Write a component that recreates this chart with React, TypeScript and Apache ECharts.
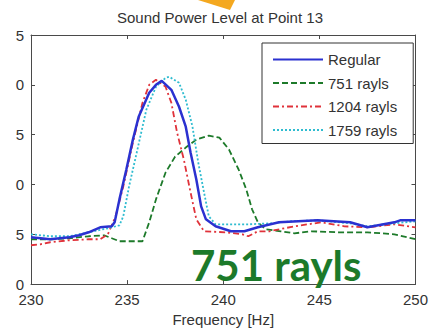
import React, { useEffect, useRef } from "react";
import * as echarts from "echarts";

// Frequency [Hz] / sound power level pairs for each treatment
const regular: [number, number][] = [
  [230, 54.7], [230.5, 54.6], [231, 54.5], [231.5, 54.6], [232, 54.7], [232.5, 54.9],
  [233, 55.2], [233.6, 55.7], [234.2, 55.8], [234.35, 56.2], [234.6, 58.5], [234.96, 61.5],
  [235.3, 64.5], [235.6, 66.8], [236.15, 69.2], [236.5, 70], [236.8, 70.4], [237.3, 69.5],
  [237.7, 67.8], [238.05, 65.8], [238.3, 63.2], [238.6, 60.5], [238.85, 57.8], [239.1, 56.5],
  [239.6, 55.8], [240.4, 55.3], [241.1, 55.3], [241.8, 55.7], [242.9, 56.2], [244.9, 56.4],
  [246.6, 56.2], [247.5, 55.7], [248.9, 56.2], [249.2, 56.4], [250, 56.4],
];

const rayls751: [number, number][] = [
  [230, 54.5], [231, 54.5], [232, 54.6], [233, 54.8], [233.8, 54.9], [234.2, 54.6],
  [234.6, 54.3], [235.8, 54.3], [236.15, 56.2], [236.5, 58.5], [237, 61.2], [237.5, 62.8],
  [238.05, 63.7], [238.6, 64.5], [239.25, 64.9], [239.8, 64.7], [240.3, 63.5], [240.8, 61.5],
  [241.2, 59.5], [241.5, 57.5], [241.8, 56.2], [242.2, 55.5], [243, 55.3], [243.7, 55.1],
  [244.6, 55.3], [246, 55.2], [247.5, 55.2], [248.9, 55], [250, 54.5],
];

const rayls1204: [number, number][] = [
  [230, 53.9], [230.5, 54], [231, 54.2], [232, 54.4], [233, 54.5], [233.6, 54.5],
  [234, 55], [234.4, 56.8], [234.8, 59.8], [235.3, 64.2], [235.8, 68.2], [236.15, 70],
  [236.5, 70.5], [237, 69.8], [237.3, 68.2], [237.6, 65.2], [237.95, 62.5], [238.3, 59.2],
  [238.6, 56.5], [239, 55.3], [240.1, 55.2], [241, 55], [241.3, 54.8], [241.8, 55.3],
  [242.4, 55.3], [243.7, 55.8], [245.1, 56.2], [246.3, 55.8], [247.5, 55.7], [248.9, 56],
  [250, 55.7],
];

const rayls1759: [number, number][] = [
  [230, 55.0], [231, 54.8], [232, 54.8], [233, 55.2], [234, 55.6], [234.6, 55.9],
  [234.8, 56.8], [235.1, 59.8], [235.5, 63.2], [236, 67.5], [236.5, 69.8], [237, 70.7],
  [237.2, 70.8], [237.7, 70.2], [238.05, 68.5], [238.4, 65.8], [238.7, 62.2], [239, 59.2],
  [239.25, 56.8], [239.6, 56], [240.5, 56], [241.3, 56], [242.5, 56.1], [243.5, 56.3],
  [244.9, 56.4], [246.6, 56.1], [247.5, 55.8], [248.9, 56.1], [250, 56.3],
];

const seriesNames = ["Regular", "751 rayls", "1204 rayls", "1759 rayls"];
const yTicks = [50, 55, 60, 65, 70, 75];
const yTickLabels = ["0", "5", "0", "5", "0", "5"];
const xTicks = [230, 235, 240, 245, 250];

const FONT = "'Liberation Sans', Arial, sans-serif";
const AXIS = "#4a4a4a";

export default function App() {
  const ref = useRef<HTMLDivElement>(null);

  useEffect(() => {
    if (!ref.current) return;
    const chart = echarts.init(ref.current, null, { renderer: "svg" });

    const frameAxisX = {
      type: "value" as const,
      min: xTicks[0],
      max: xTicks[xTicks.length - 1],
      interval: 5,
      splitLine: { show: false },
      axisLine: { show: true, onZero: false, lineStyle: { color: AXIS, width: 1 } },
      axisTick: { show: true, inside: true, length: 4, lineStyle: { color: AXIS } },
    };
    const frameAxisY = {
      type: "value" as const,
      min: yTicks[0],
      max: yTicks[yTicks.length - 1],
      interval: 5,
      splitLine: { show: false },
      axisLine: { show: true, onZero: false, lineStyle: { color: AXIS, width: 1 } },
      axisTick: { show: true, inside: true, length: 4, lineStyle: { color: AXIS } },
    };

    chart.setOption({
      animation: false,
      backgroundColor: "#ffffff",
      title: {
        text: "Sound Power Level at Point 13",
        left: 112,
        top: 5,
        textStyle: { fontFamily: FONT, fontSize: 15, fontWeight: "normal", color: "#333" },
      },
      grid: { left: 31, right: 13, top: 35, bottom: 47 },
      legend: {
        data: seriesNames,
        orient: "vertical",
        left: 262,
        top: 43,
        padding: [9, 16, 6, 10],
        itemWidth: 50,
        itemHeight: 14,
        itemGap: 8.5,
        backgroundColor: "#ffffff",
        borderColor: "#333",
        borderWidth: 1,
        borderRadius: 0,
        itemStyle: { opacity: 0, color: "rgba(0,0,0,0)", borderWidth: 0 },
        textStyle: { fontFamily: FONT, fontSize: 15, color: "#333" },
      },
      xAxis: [
        {
          ...frameAxisX,
          position: "bottom",
          name: "Frequency [Hz]",
          nameLocation: "middle",
          nameGap: 27,
          nameTextStyle: { fontFamily: FONT, fontSize: 15, color: "#333" },
          axisLabel: { fontFamily: FONT, fontSize: 15, color: "#333", margin: 8 },
        },
        { ...frameAxisX, position: "top", axisLabel: { show: false } },
      ],
      yAxis: [
        {
          ...frameAxisY,
          position: "left",
          axisLabel: {
            fontFamily: FONT,
            fontSize: 15,
            color: "#333",
            margin: 7,
            formatter: (v: number) => yTickLabels[yTicks.indexOf(v)] ?? "",
          },
        },
        { ...frameAxisY, position: "right", axisLabel: { show: false } },
      ],
      series: [
        {
          name: seriesNames[0],
          type: "line",
          data: regular,
          showSymbol: false,
          symbol: "none",
          z: 4,
          lineStyle: { color: "#2b31d0", width: 2.5, type: "solid" },
          itemStyle: { color: "#2b31d0" },
        },
        {
          name: seriesNames[1],
          type: "line",
          data: rayls751,
          showSymbol: false,
          symbol: "none",
          z: 3,
          lineStyle: { color: "#1d7a2a", width: 1.8, type: [6, 3] },
          itemStyle: { color: "#1d7a2a" },
        },
        {
          name: seriesNames[2],
          type: "line",
          data: rayls1204,
          showSymbol: false,
          symbol: "none",
          z: 3,
          lineStyle: { color: "#e0323a", width: 1.8, type: [6, 3, 2, 3] },
          itemStyle: { color: "#e0323a" },
        },
        {
          name: seriesNames[3],
          type: "line",
          data: rayls1759,
          showSymbol: false,
          symbol: "none",
          z: 3,
          lineStyle: { color: "#2fbcd0", width: 1.8, type: [2, 2] },
          itemStyle: { color: "#2fbcd0" },
        },
      ],
      graphic: [
        {
          type: "polygon",
          z: 10,
          shape: { points: [[198, 0], [235, 0], [230, 10]] },
          style: { fill: "#f4a81f" },
        },
        {
          type: "text",
          left: 191,
          top: 244,
          z: 10,
          style: {
            text: "751 rayls",
            fill: "#1c7a2a",
            font: "bold 42px Lato, 'Open Sans', sans-serif",
          },
        },
      ],
    });

    return () => chart.dispose();
  }, []);

  return (
    <div
      ref={ref}
      style={{ position: "absolute", left: 0, top: 0, width: 431, height: 332 }}
    />
  );
}
